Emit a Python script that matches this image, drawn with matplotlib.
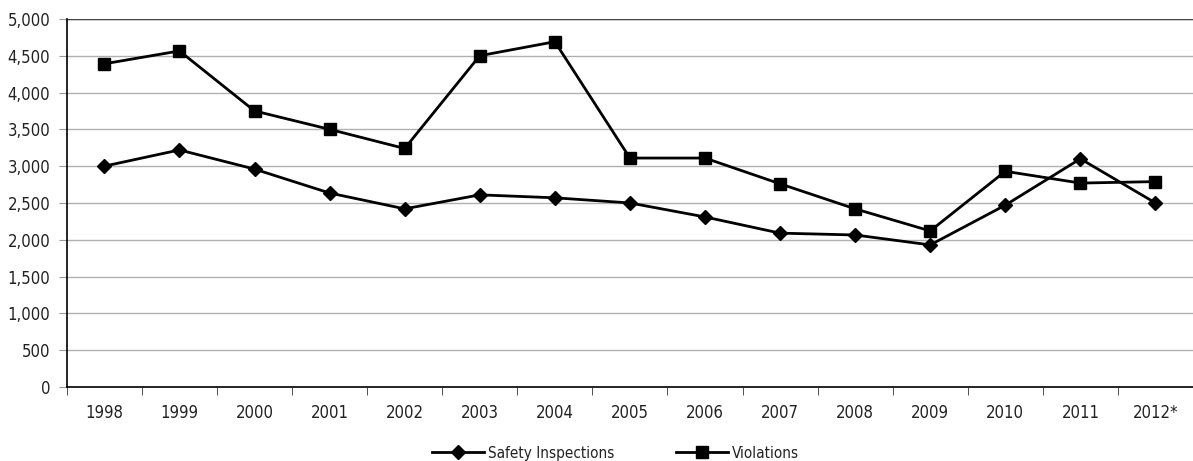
import matplotlib
matplotlib.use("Agg")
import matplotlib.pyplot as plt
import numpy as np

# Daten
jahre = ["1998", "1999", "2000", "2001", "2002", "2003", "2004", "2005",
         "2006", "2007", "2008", "2009", "2010", "2011", "2012*"]
inspektionen = [3000, 3220, 2960, 2635, 2420, 2610, 2570, 2500,
                2310, 2090, 2065, 1930, 2470, 3100, 2500]
verstoesse = [4390, 4565, 3750, 3500, 3240, 4500, 4690, 3110,
              3110, 2760, 2420, 2120, 2930, 2770, 2790]
y_ticks = list(range(0, 5001, 500))

plt.rcParams['font.family'] = ['DejaVu Sans']
plt.rcParams['font.stretch'] = 'condensed'

fig = plt.figure(figsize=(11.93, 4.61), dpi=100)
ax = fig.add_axes([0.056, 0.1605, 0.944, 0.7985])

x = np.arange(len(jahre))
ax.plot(x, inspektionen, color='black', linewidth=2, marker='D', markersize=7,
        label='Safety Inspections')
ax.plot(x, verstoesse, color='black', linewidth=2, marker='s', markersize=9,
        label='Violations')

ax.set_xlim(-0.5, len(jahre) - 0.5)
ax.set_ylim(0, 5000)
ax.set_yticks(y_ticks)
ax.set_yticklabels([f"{v:,}" for v in y_ticks])
ax.yaxis.grid(True, color='#b0b0b0', linewidth=1)
ax.set_axisbelow(True)

ax.set_xticks(x)
ax.set_xticklabels(jahre)
ax.set_xticks(np.arange(-0.5, len(jahre)), minor=True)
ax.tick_params(axis='x', which='major', length=0, pad=12, labelsize=12,
               labelcolor='#222222')
ax.tick_params(axis='x', which='minor', length=6, color='#333333', direction='out')
ax.tick_params(axis='y', length=6, color='#999999', labelsize=12,
               labelcolor='#222222', pad=6)

for s in ['top', 'right']:
    ax.spines[s].set_visible(False)
ax.spines['left'].set_color('black')
ax.spines['bottom'].set_color('black')
ax.spines['left'].set_linewidth(1.2)
ax.spines['bottom'].set_linewidth(1.2)
ax.axhline(5000, color='#444444', linewidth=1)

fig.legend(loc='center', bbox_to_anchor=(0.516, 1 - 453 / 461),
           ncol=2, frameon=False, fontsize=11, handlelength=3.4,
           handletextpad=0.3, columnspacing=4, labelcolor='#222222',
           borderpad=0)

fig.savefig("out.png", dpi=100)
